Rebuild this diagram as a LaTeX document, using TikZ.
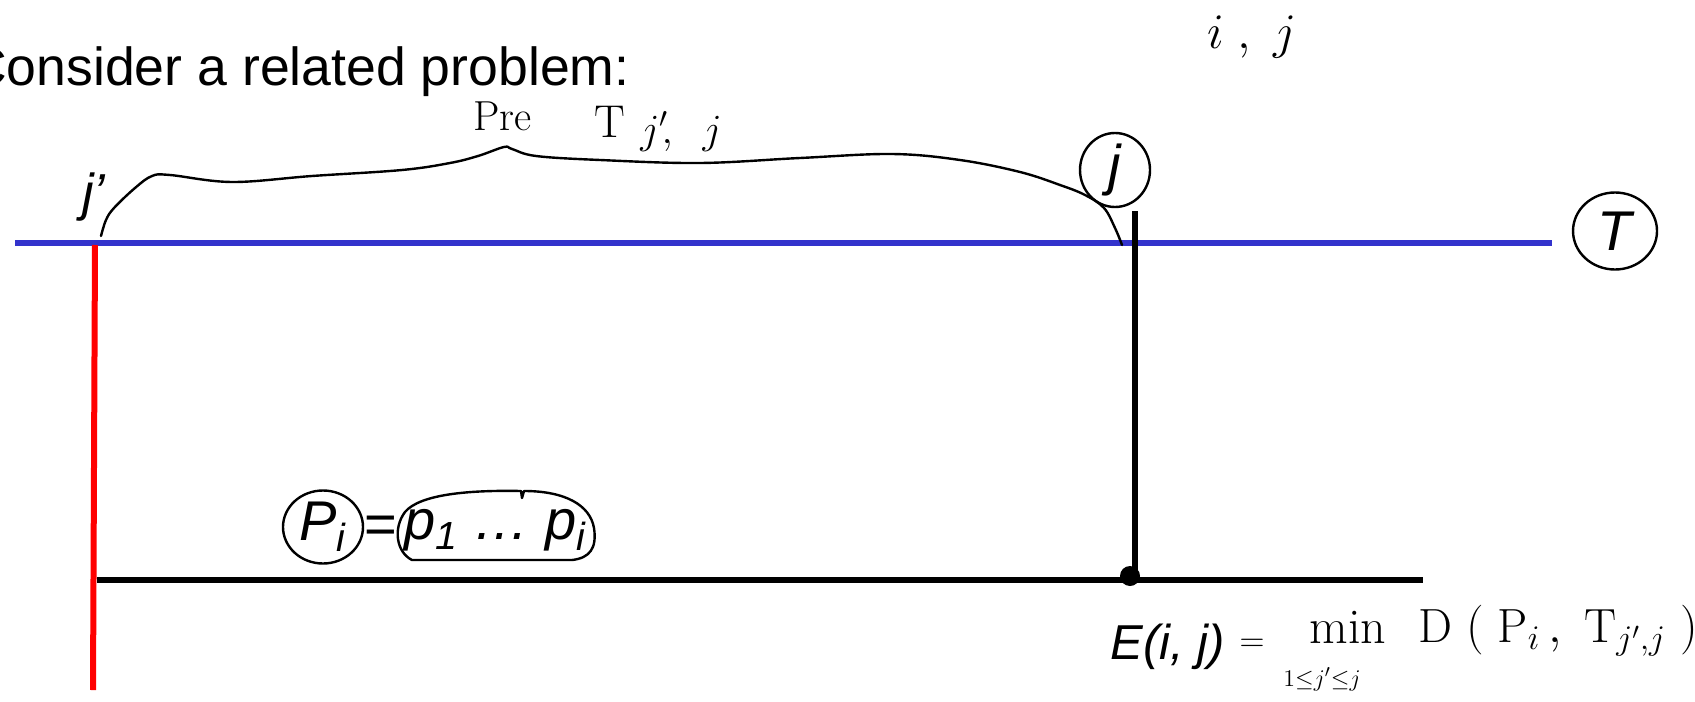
\documentclass[tikz,border=0pt]{standalone}
\usepackage{fontspec}
\newfontfamily\slidefont{Liberation Sans}
\usetikzlibrary{shapes.geometric}
\definecolor{sablue}{HTML}{3333CC}
\definecolor{sared}{HTML}{FF0000}
\definecolor{saink}{HTML}{000000}
\tikzset{
  sarule/.style={line width=3pt, draw=saink},
  sahand/.style={line width=1.2pt, draw=saink, line cap=round,
    line join=round},
  saloop/.style={ellipse, sahand, inner sep=0pt},
  saslide/.style={font=\slidefont\itshape\fontsize{28}{28}\selectfont,
    text=saink, inner sep=0pt},
  sanote/.style={font=\fontsize{21}{21}\selectfont, text=saink,
    inner sep=0pt},
}

\begin{document}
\begin{tikzpicture}[x=0.5pt, y=-0.5pt]
\useasboundingbox (0,0) rectangle (1695,701);

% Header.
\node[anchor=base east, inner sep=0pt,
      font=\slidefont\fontsize{26.8}{26.8}\selectfont] (title) at (630,86)
  {Consider a related problem:};

% Text T (blue), start column j' (red), pattern row and column j.
\coordinate (tleft) at (15,243);
\coordinate (tright) at (1552,243);
\coordinate (jtop) at (95,245);
\coordinate (jbottom) at (93,690);
\coordinate (pleft) at (97,580);
\coordinate (pright) at (1423,580);
\coordinate (ctop) at (1135,211);
\coordinate (cbottom) at (1135,580);
\draw[sarule, draw=sablue] (tleft) -- (tright);
\draw[sarule, draw=sared] (jtop) -- (jbottom);
\draw[sarule] (pleft) -- (pright);
\draw[sarule] (ctop) -- (cbottom);
\node[circle, fill=saink, minimum size=10pt, inner sep=0pt] (cell)
  at (1130,576) {};

% Labels on the lines.
\node[saslide, font=\slidefont\itshape\fontsize{26}{26}\selectfont]
  (jprime) at (94,197) {j’};
\node[saloop, saslide, minimum width=35pt, minimum height=37pt] (jlab)
  at (1115,170) {j};
\node[saloop, saslide, minimum width=42pt, minimum height=38.5pt] (tlab)
  at (1615,231) {T};
\node[saloop, saslide, minimum width=40pt, minimum height=36.5pt] (plab)
  at (323,527) {P\textsubscript{i}};
\node[saslide, font=\slidefont\fontsize{28}{28}\selectfont] (peq)
  at (381,530) {=};
\node[saslide] (plist) at (495,530)
  {p\textsubscript{1} … p\textsubscript{i}};
\draw[sahand] (412,560) .. controls (396,552) and (393,528) .. (405,512)
  .. controls (420,494) and (470,490) .. (521,491) -- (522,498)
  -- (524,491) .. controls (565,491) and (590,505) .. (594,528)
  .. controls (597,548) and (590,558) .. (572,560) -- cycle;

% Handwritten brace over T from j' to j.
\draw[sahand] plot[smooth, tension=0.6] coordinates {
  (101,236) (106,220) (114,208) (135,188) (152,176) (170,175)
  (232,182) (312,176) (402,170) (450,163) (478,156) (504,147)
  (512,149) (536,156) (600,160) (700,163) (800,158) (892,154)
  (960,160) (1020,172) (1060,185) (1085,195) (1104,208) (1115,228)
  (1122,245)};
\node[sanote, anchor=base west] (hpre) at (473,131) {Pre};
\node[sanote, font=\fontsize{23}{23}\selectfont, anchor=base west]
  (htee) at (594,137) {T};
\node[sanote, anchor=base west] (hidx) at (640,143) {$j'\!,\;\;j$};
\node[sanote, font=\fontsize{24}{24}\selectfont] (hij) at (1252,37)
  {$i\;,\;j$};

% Cost of the cell.
\node[saslide, font=\slidefont\itshape\fontsize{24.5}{24.5}\selectfont,
      anchor=base west] (elab) at (1110,659) {E(i, j)};
\node[sanote, font=\fontsize{16}{16}\selectfont] (heq) at (1252,645)
  {$=$};
\node[sanote, font=\fontsize{25}{25}\selectfont] (hmin) at (1348,627)
  {min};
\node[sanote, font=\fontsize{13}{13}\selectfont] (hrange) at (1322,679)
  {$1{\le}j'{\le}j$};
\node[sanote, font=\fontsize{24}{24}\selectfont, anchor=base west]
  (hdist) at (1418,642)
  {$\mathrm{D}\;(\;\mathrm{P}_i\,,\;\mathrm{T}_{j',j}\;)$};

\end{tikzpicture}
\end{document}
